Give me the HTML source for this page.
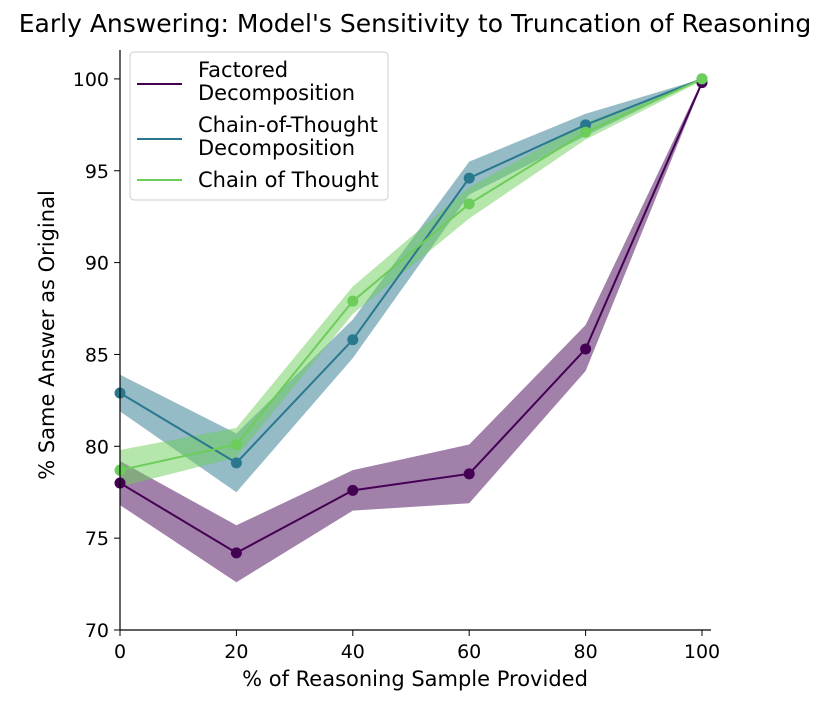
<!DOCTYPE html>
<html><head><meta charset="utf-8"><style>
html,body{margin:0;padding:0;background:#fff;}
svg{display:block;font-family:"DejaVu Sans","Liberation Sans",sans-serif;}
</style></head><body>
<svg id="chart" width="831" height="703" viewBox="0 0 831 703">
<text x="415" y="32" font-size="25" text-anchor="middle">Early Answering: Model's Sensitivity to Truncation of Reasoning</text>
<g id="bands"></g><g id="lines"></g><g id="axes"></g><g id="legend"></g>
</svg>
<script>
const xValues=[0,20,40,60,80,100];
const factoredMean=[78.0,74.2,77.6,78.5,85.3,99.8];
const factoredLow=[76.8,72.6,76.5,76.9,84.1,99.7];
const factoredHigh=[79.2,75.7,78.7,80.1,86.6,99.9];
const cotDecompMean=[82.9,79.1,85.8,94.6,97.5,100];
const cotDecompLow=[81.9,77.5,84.8,93.7,96.9,100];
const cotDecompHigh=[83.9,80.7,86.9,95.5,98.1,100];
const cotMean=[78.7,80.1,87.9,93.2,97.1,100];
const cotLow=[77.8,79.4,87.2,92.4,96.7,99.9];
const cotHigh=[79.8,81.0,88.7,94.1,97.6,100];
const xTicks=[0,20,40,60,80,100];
const yTicks=[70,75,80,85,90,95,100];
const NS="http://www.w3.org/2000/svg";
const X=v=>120+v*5.82, Y=v=>630-(v-70)*18.37;
function mk(tag,attrs,parent){const e=document.createElementNS(NS,tag);for(const k in attrs)e.setAttribute(k,attrs[k]);parent.appendChild(e);return e;}
const bands=document.getElementById('bands'),lines=document.getElementById('lines'),axes=document.getElementById('axes'),legend=document.getElementById('legend');
const series=[
 {name:'factored',mean:factoredMean,lo:factoredLow,hi:factoredHigh,color:'#440154',fill:'#440154'},
 {name:'cot-decomposition',mean:cotDecompMean,lo:cotDecompLow,hi:cotDecompHigh,color:'#2a788e',fill:'#2a788e'},
 {name:'chain-of-thought',mean:cotMean,lo:cotLow,hi:cotHigh,color:'#6ccd5a',fill:'#6ccd5a'}];
series.forEach(s=>{
 let d=xValues.map((x,i)=>(i?'L':'M')+X(x)+','+Y(s.hi[i])).join('');
 d+=xValues.slice().reverse().map((x,j)=>{const i=xValues.length-1-j;return 'L'+X(x)+','+Y(s.lo[i]);}).join('')+'Z';
 const b=mk('path',{d:d,fill:s.fill,'fill-opacity':0.5,stroke:'none'},bands);
 
 
});
series.forEach(s=>{
 const l=mk('polyline',{points:xValues.map((x,i)=>X(x)+','+Y(s.mean[i])).join(' '),fill:'none',stroke:s.color,'stroke-width':2},lines);
 
 
 xValues.forEach((x,i)=>{
  const c=mk('circle',{cx:X(x),cy:Y(s.mean[i]),r:5.5,fill:s.color},lines);
  
  
 });
});
mk('line',{x1:120,y1:50,x2:120,y2:630,stroke:'#000','stroke-width':1.2},axes);
mk('line',{x1:120,y1:630,x2:711,y2:630,stroke:'#000','stroke-width':1.2},axes);
xTicks.forEach(t=>{
 mk('line',{x1:X(t),y1:630,x2:X(t),y2:636,stroke:'#000'},axes);
 const tx=mk('text',{x:X(t),y:658,'font-size':19,'text-anchor':'middle'},axes);tx.textContent=t;
 
 
});
yTicks.forEach(t=>{
 mk('line',{x1:114,y1:Y(t),x2:120,y2:Y(t),stroke:'#000'},axes);
 const tx=mk('text',{x:109,y:Y(t)+7,'font-size':19,'text-anchor':'end'},axes);tx.textContent=t;
 
 
});
const xl=mk('text',{x:415,y:686,'font-size':21,'text-anchor':'middle'},axes);xl.textContent='% of Reasoning Sample Provided';


const yl=mk('text',{x:0,y:0,'font-size':21,'text-anchor':'middle',transform:'translate(54,335) rotate(-90)'},axes);yl.textContent='% Same Answer as Original';


const box=mk('rect',{x:130,y:52,width:258,height:148,rx:4,fill:'#fff','fill-opacity':0.8,stroke:'#ccc'},legend);


const entries=[{lines:['Factored','Decomposition'],y:84,t:77,c:'#440154'},{lines:['Chain-of-Thought','Decomposition'],y:139,t:132,c:'#2a788e'},{lines:['Chain of Thought'],y:180,t:187,c:'#6ccd5a'}];
entries.forEach(e=>{
 const g=mk('g',{},legend);
 
 
 mk('line',{x1:137,y1:e.y,x2:182,y2:e.y,stroke:e.c,'stroke-width':2},g);
 e.lines.forEach((s,i)=>{const t=mk('text',{x:198,y:e.t+i*23,'font-size':21},g);t.textContent=s;});
});
</script>
</body></html>
